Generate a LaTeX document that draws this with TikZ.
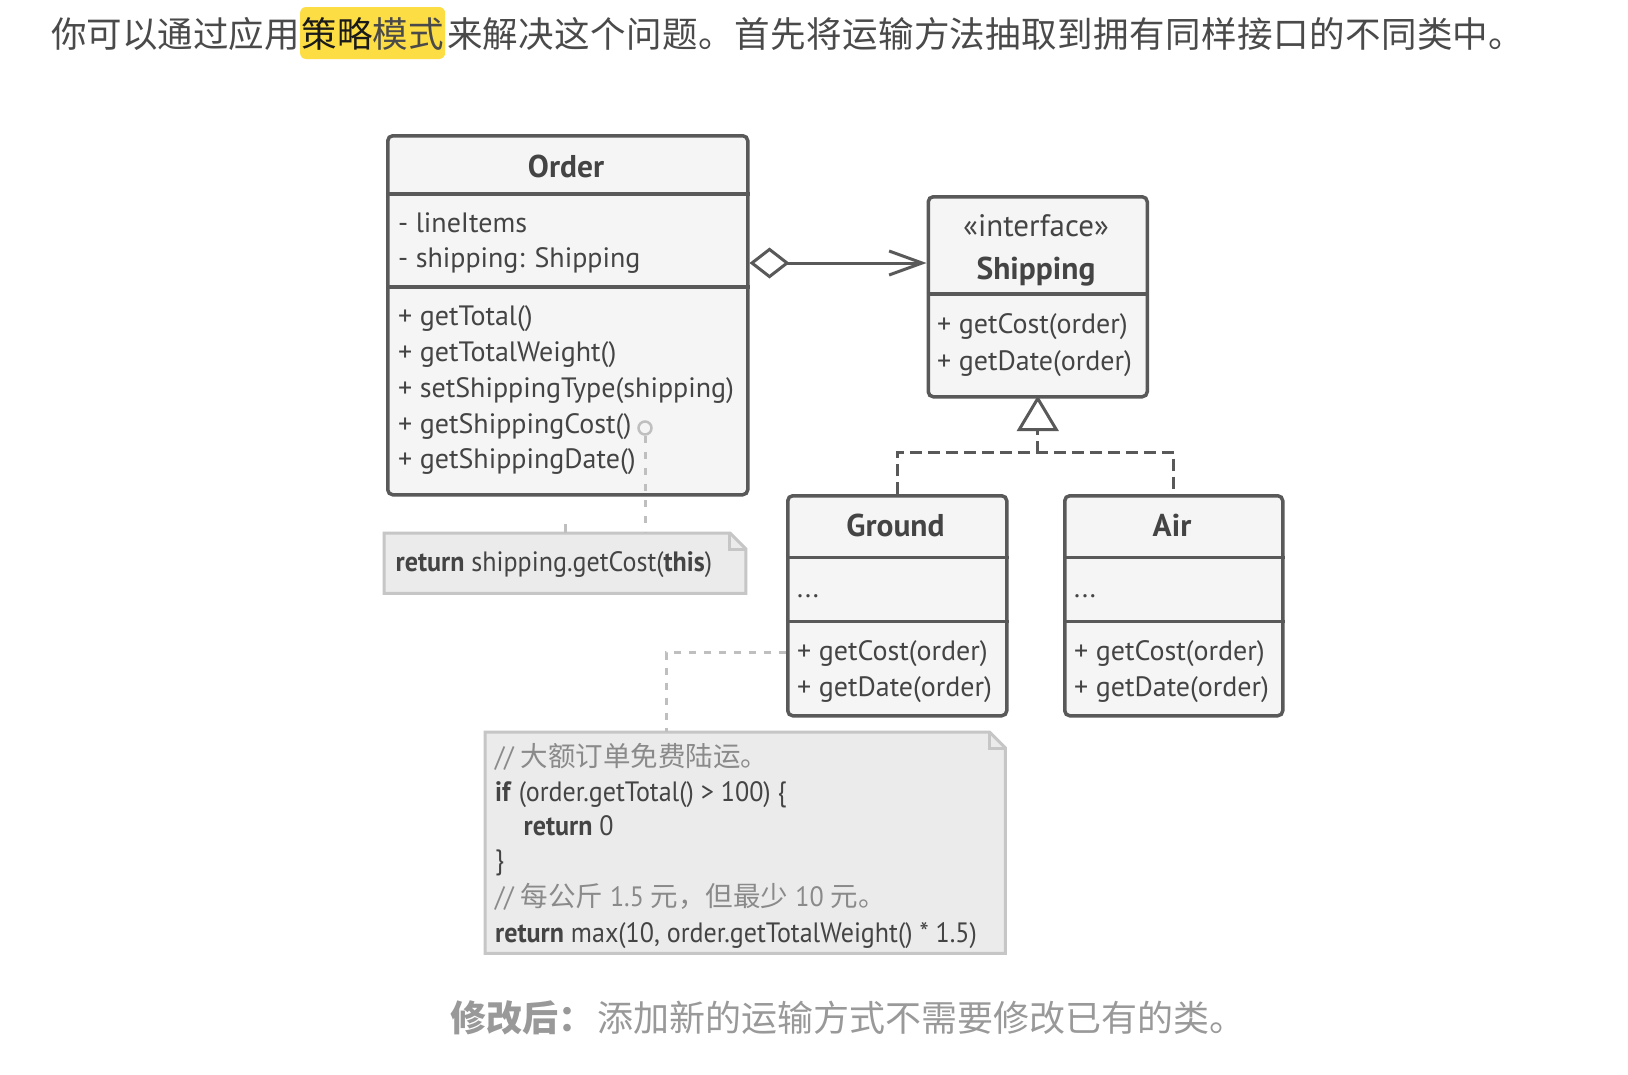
\documentclass[tikz,border=0pt]{standalone}
\usepackage{fontspec}
\setmainfont{PT Sans}
\newfontfamily\cjk{Noto Sans CJK SC}
\newfontfamily\narrow[FakeStretch=0.93]{PT Sans}
\usetikzlibrary{arrows.meta,calc}
\definecolor{linec}{HTML}{595959}
\definecolor{boxfill}{HTML}{F5F5F5}
\definecolor{txt}{HTML}{444444}
\definecolor{notefill}{HTML}{EBEBEB}
\definecolor{notedraw}{HTML}{C6C6C6}
\definecolor{notelink}{HTML}{BFBFBF}
\definecolor{comment}{HTML}{8A8A8A}
\definecolor{capc}{HTML}{999999}
\definecolor{hlc}{HTML}{FCDD44}
\definecolor{toptxt}{HTML}{4A4A4A}
\begin{document}
\begin{tikzpicture}[x=1pt,y=-1pt,
  box/.style={draw=linec, fill=boxfill, line width=3.5pt, rounded corners=5pt, inner sep=0pt, anchor=north west},
  divider/.style={draw=linec, line width=3.5pt},
  title/.style={font=\fontsize{31.5}{36}\selectfont\bfseries, text=txt, inner sep=0pt, anchor=base},
  stereo/.style={font=\fontsize{31}{36}\selectfont, text=txt, inner sep=0pt, anchor=base},
  member/.style={font=\fontsize{28}{32}\selectfont, text=txt, inner sep=0pt, anchor=base west},
  conn/.style={draw=linec, line width=3pt},
  dconn/.style={draw=linec, line width=3pt, dash pattern=on 12pt off 6pt},
  notebox/.style={inner sep=0pt, anchor=north west},
  noteline/.style={draw=notedraw, fill=notefill, line width=3pt, line join=miter},
  code/.style={font=\narrow\fontsize{28}{32}\selectfont, text=txt, inner sep=0pt, anchor=base west},
  cjkc/.style={},
  notedot/.style={draw=notelink, line width=3pt, dash pattern=on 7pt off 9pt},
  notedash/.style={draw=notelink, line width=3pt, dash pattern=on 7pt off 8pt},
  notestub/.style={draw=notelink, line width=3pt},
  toptext/.style={font=\cjk\fontsize{35.5}{40}\selectfont, text=toptxt, inner sep=0pt, anchor=base west},
  capt/.style={font=\cjk\fontsize{36}{40}\selectfont, text=capc, inner sep=0pt, anchor=base west}
]
\useasboundingbox (0,0) rectangle (1628,1074);
\fill[white] (0,0) rectangle (1628,1074);

% ---------- top text ----------
\node[toptext] (t1) at (51,47) {你可以通过应用};
\node[toptext, fill=hlc, rounded corners=6pt, inner xsep=1.5pt, text height=40pt, text depth=12pt] (t2) at (t1.base east) {\textcolor[HTML]{1A1A1A}{策略}模式};
\node[toptext] (t3) at ([xshift=1.5pt]t2.base east) {\addfontfeatures{LetterSpace=1.2}来解决这个问题。首先将运输方法抽取到拥有同样接口的不同类中。};

% ---------- Order ----------
\node[box, minimum width=360pt, minimum height=359pt] (order) at (386,134) {};
\draw[divider] (order.west |- 0,194) -- (order.east |- 0,194);
\draw[divider] (order.west |- 0,287) -- (order.east |- 0,287);
\node[title] (ordert) at (566,177) {Order};
\node[member] (o1) at (398,232) {- lineItems};
\node[member] (o2) at (398,267) {- shipping: Shipping};
\node[member] (o3) at (398,325) {+ getTotal()};
\node[member] (o4) at (398,361) {+ getTotalWeight()};
\node[member] (o5) at (398,397) {+ setShippingType(shipping)};
\node[member] (o6) at (398,433) {+ getShippingCost()};
\node[member] (o7) at (398,468) {+ getShippingDate()};

% ---------- Shipping ----------
\node[box, minimum width=219pt, minimum height=200pt] (ship) at (926.5,195) {};
\draw[divider] (ship.west |- 0,294) -- (ship.east |- 0,294);
\node[stereo] (shs) at (1036,236) {«interface»};
\node[title] (sht) at (1036,279) {Shipping};
\node[member] (sh1) at (937,333) {+ getCost(order)};
\node[member] (sh2) at (937,370) {+ getDate(order)};

% ---------- Ground ----------
\node[box, minimum width=219pt, minimum height=220pt] (ground) at (786,494) {};
\draw[divider] (ground.west |- 0,557.5) -- (ground.east |- 0,557.5);
\draw[divider] (ground.west |- 0,621.5) -- (ground.east |- 0,621.5);
\node[title] (grt) at (895.5,536) {Ground};
\node[member] (gr1) at (797,597) {...};
\node[member] (gr2) at (797,660) {+ getCost(order)};
\node[member] (gr3) at (797,696) {+ getDate(order)};

% ---------- Air ----------
\node[box, minimum width=218pt, minimum height=220pt] (air) at (1063,494) {};
\draw[divider] (air.west |- 0,557.5) -- (air.east |- 0,557.5);
\draw[divider] (air.west |- 0,621.5) -- (air.east |- 0,621.5);
\node[title] (airt) at (1172,536) {Air};
\node[member] (ai1) at (1074,597) {...};
\node[member] (ai2) at (1074,660) {+ getCost(order)};
\node[member] (ai3) at (1074,696) {+ getDate(order)};

% ---------- aggregation ----------
\draw[conn, {Diamond[open,length=40pt,width=31pt]}-{Straight Barb[length=33pt,width=24pt]}] (order.east |- 0,263) -- (ship.west |- 0,263);

% ---------- realization ----------
\coordinate (junc) at (ship.south |- 0,452.5);
\draw[dconn] (ground.north) |- (junc) -| (air.north);
\draw[dconn] (junc) -- (ship.south |- 0,429);
\draw[conn, fill=white, line join=miter] (ship.south |- 0,398.5) -- ++(-18.5,31) -- ++(37,0) -- cycle;

% ---------- note 1 ----------
\node[notebox, minimum width=361.5pt, minimum height=60pt] (note1) at (384,533) {};
\draw[noteline] (note1.north west) -- ([xshift=-16pt]note1.north east) -- ([yshift=-16pt]note1.north east) -- (note1.south east) -- (note1.south west) -- cycle;
\draw[draw=notedraw, line width=3pt, line join=miter] ([xshift=-16pt]note1.north east) |- ([yshift=-16pt]note1.north east);
\node[code] (n1t) at (395.5,571.5) {\textbf{return} shipping.getCost(\textbf{this})};

\node[circle, draw=notelink, line width=2.5pt, minimum size=13pt, inner sep=0pt, fill=boxfill] (pin) at (645,428) {};
\draw[notedot] (pin.south) -- (pin.south |- note1.north);
\coordinate (stub) at (565,524);
\draw[notestub] (stub) -- (stub |- note1.north);

% ---------- note 2 ----------
\node[notebox, minimum width=520pt, minimum height=221pt] (note2) at (485,732) {};
\draw[noteline] (note2.north west) -- ([xshift=-16pt]note2.north east) -- ([yshift=-16pt]note2.north east) -- (note2.south east) -- (note2.south west) -- cycle;
\draw[draw=notedraw, line width=3pt, line join=miter] ([xshift=-16pt]note2.north east) |- ([yshift=-16pt]note2.north east);
\node[code, text=comment] (n2a) at (495,766) {// {\cjk\fontsize{27.5}{30}\selectfont 大额订单免费陆运。}};
\node[code] (n2b) at (495,801.5) {\textbf{if} (order.getTotal() > 100) \{};
\node[code] (n2c) at (523.5,835.5) {\textbf{return} 0};
\node[code] (n2d) at (495,869) {\}};
\node[code, text=comment] (n2e) at (495,906) {// {\cjk\fontsize{27.5}{30}\selectfont 每公斤} 1.5 {\cjk\fontsize{27.5}{30}\selectfont 元，但最少} 10 {\cjk\fontsize{27.5}{30}\selectfont 元。}};
\node[code] (n2f) at (495,942.5) {\textbf{return} max(10, order.getTotalWeight() * 1.5)};

\coordinate (gl) at (ground.west |- 0,652.5);
\draw[notedash] (gl) -| (note2.north -| 666,0);

% ---------- caption ----------
\node[capt, font=\cjk\bfseries\fontsize{36}{40}\selectfont] (c1) at (450,1031) {修改后：};
\node[capt] (c2) at (597,1031) {添加新的运输方式不需要修改已有的类。};
\end{tikzpicture}
\end{document}
